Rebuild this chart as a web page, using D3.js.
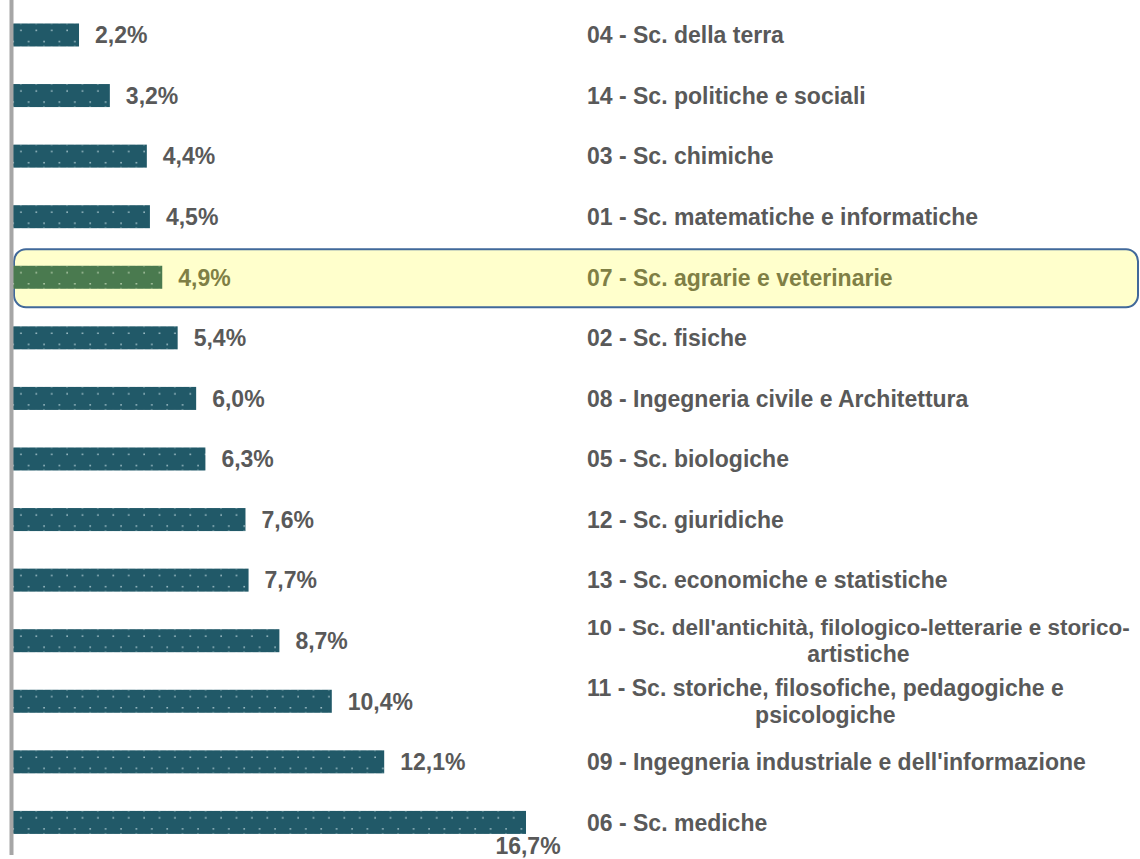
<!DOCTYPE html>
<html><head><meta charset="utf-8">
<script src="https://cdn.jsdelivr.net/npm/d3@7"></script>
<style>body{margin:0;background:#fff}svg{display:block}</style>
</head><body>
<svg id="c" width="1140" height="859"></svg>
<script>
const categories = [
  "04 - Sc. della terra",
  "14 - Sc. politiche e sociali",
  "03 - Sc. chimiche",
  "01 - Sc. matematiche e informatiche",
  "07 - Sc. agrarie e veterinarie",
  "02 - Sc. fisiche",
  "08 - Ingegneria civile e Architettura",
  "05 - Sc. biologiche",
  "12 - Sc. giuridiche",
  "13 - Sc. economiche e statistiche",
  "10 - Sc. dell'antichità, filologico-letterarie e storico-\nartistiche",
  "11 - Sc. storiche, filosofiche, pedagogiche e\npsicologiche",
  "09 - Ingegneria industriale e dell'informazione",
  "06 - Sc. mediche"
];
const values = [2.2, 3.2, 4.4, 4.5, 4.9, 5.4, 6.0, 6.3, 7.6, 7.7, 8.7, 10.4, 12.1, 16.7];
const valueLabels = ["2,2%","3,2%","4,4%","4,5%","4,9%","5,4%","6,0%","6,3%","7,6%","7,7%","8,7%","10,4%","12,1%","16,7%"];
const highlighted = ["07 - Sc. agrarie e veterinarie"];

const svg = d3.select("#c");
const x = d3.scaleLinear().domain([0, 16.7]).range([11.2, 526]);
const y = d3.scaleBand().domain(categories).range([4.7, 852.7]).paddingInner(0.62).paddingOuter(0.31);
const font = "'Liberation Sans', Arial, sans-serif";
const fs = 23;
const isHi = c => highlighted.includes(c);

// highlight box
const hiCat = highlighted[0];
const cy = y(hiCat) + y.bandwidth() / 2;
svg.append("rect").attr("x", 14).attr("y", cy - 28).attr("width", 1124).attr("height", 58)
  .attr("rx", 12).attr("fill", "#ffffcc").attr("stroke", "#41699a").attr("stroke-width", 2);

// patterns
const defs = svg.append("defs");
categories.forEach((c, i) => {
  const p = defs.append("pattern").attr("id", "pat" + i).attr("patternUnits", "userSpaceOnUse")
    .attr("x", x(0)).attr("y", y(c)).attr("width", 15.4).attr("height", y.bandwidth());
  p.append("rect").attr("width", 15.4).attr("height", y.bandwidth()).attr("fill", isHi(c) ? "#4a7a4f" : "#215968");
  const dc = isHi(c) ? "#b9d0b0" : "#a9c6cd";
  p.append("rect").attr("x", 9).attr("y", y.bandwidth() * 0.27).attr("width", 1.5).attr("height", 1.5).attr("fill", dc);
  p.append("rect").attr("x", 1.3).attr("y", y.bandwidth() * 0.75).attr("width", 1.5).attr("height", 1.5).attr("fill", dc);
  p.append("rect").attr("x", 9).attr("y", 0).attr("width", 1.2).attr("height", 1).attr("fill", dc).attr("opacity", 0.6);
  p.append("rect").attr("x", 1.3).attr("y", y.bandwidth() - 1).attr("width", 1.2).attr("height", 1).attr("fill", dc).attr("opacity", 0.6);
});

// bars
svg.append("g").selectAll("rect").data(categories).join("rect")
  .attr("x", x(0)).attr("y", c => y(c))
  .attr("width", (c, i) => x(values[i]) - x(0)).attr("height", y.bandwidth())
  .attr("fill", (c, i) => `url(#pat${i})`);

// axis line
svg.append("line").attr("x1", 11.5).attr("x2", 11.5).attr("y1", 0).attr("y2", 855)
  .attr("stroke", "#a6a6a6").attr("stroke-width", 4);

// value labels
const last = categories.length - 1;
svg.append("g").selectAll("text").data(categories).join("text")
  .attr("x", (c, i) => i === last ? x(values[i]) + 2 : x(values[i]) + 16)
  .attr("y", (c, i) => i === last ? y(c) + y.bandwidth() + 12 : y(c) + y.bandwidth() / 2)
  .attr("dy", "0.36em")
  .attr("text-anchor", (c, i) => i === last ? "middle" : "start")
  .attr("font-family", font).attr("font-weight", "bold").attr("font-size", fs)
  .attr("fill", c => isHi(c) ? "#7f7f45" : "#595959")
  .text((c, i) => valueLabels[i]);

// category labels
const lg = svg.append("g");
const maxRight = 1130;
categories.forEach(c => {
  const lines = c.split("\n");
  const mid = y(c) + y.bandwidth() / 2;
  const lh = 27;
  const t0 = mid - (lines.length - 1) * lh / 2;
  const first = lg.append("text").attr("x", 587).attr("y", t0).attr("dy", "0.36em")
    .attr("font-family", font).attr("font-weight", "bold").attr("font-size", fs)
    .attr("fill", isHi(c) ? "#7f7f45" : "#595959").text(lines[0]);
  let w = first.node().getComputedTextLength();
  if (587 + w > maxRight) {
    const f2 = fs * (maxRight - 587) / w;
    first.attr("font-size", f2);
    w = first.node().getComputedTextLength();
  }
  if (lines.length > 1) {
    lines.slice(1).forEach((l, k) => {
      lg.append("text").attr("x", 587 + w / 2).attr("y", t0 + (k + 1) * lh).attr("dy", "0.36em")
        .attr("text-anchor", "middle")
        .attr("font-family", font).attr("font-weight", "bold").attr("font-size", fs)
        .attr("fill", "#595959").text(l);
    });
  }
});
</script>
</body></html>
